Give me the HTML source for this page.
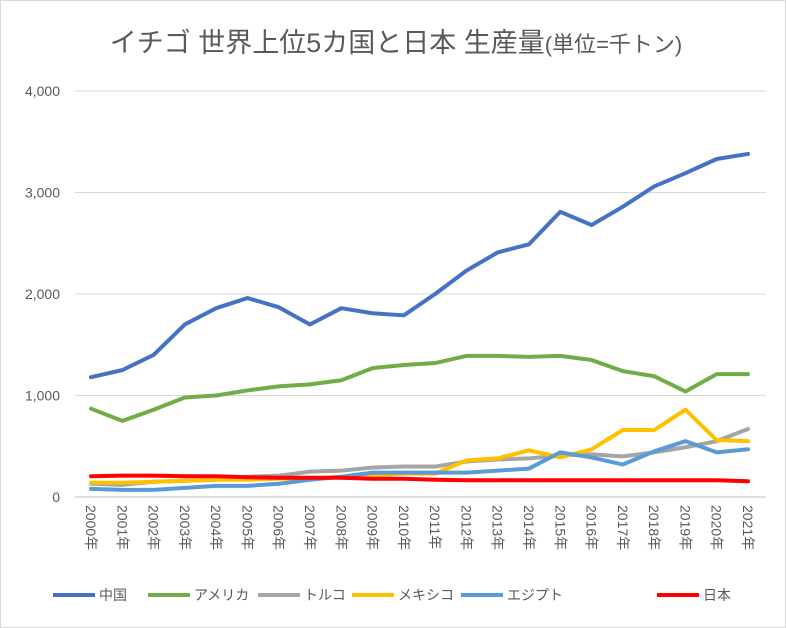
<!DOCTYPE html>
<html><head><meta charset="utf-8"><style>
body{margin:0;background:#fff;}
svg{display:block;font-family:"Liberation Sans","Noto Sans CJK JP",sans-serif;}
</style></head><body>
<svg id="c" width="786" height="628" xmlns="http://www.w3.org/2000/svg">
<rect x="0.5" y="0.5" width="785" height="627" fill="#fff" stroke="#d9d9d9"/>
<text x="396" y="52" text-anchor="middle" font-size="27" fill="#595959">イチゴ 世界上位5カ国と日本 生産量<tspan font-size="22">(単位=千トン)</tspan></text>
</svg>
<script>
const s=document.getElementById('c'),NS='http://www.w3.org/2000/svg';
function el(t,a,txt){const e=document.createElementNS(NS,t);for(const k in a)e.setAttribute(k,a[k]);if(txt!==undefined)e.textContent=txt;s.appendChild(e);return e;}
const y0=497,k=101.5/1000,x0=91,dx=657/21;
for(let i=0;i<=4;i++){const y=y0-i*1000*k;
 el('line',{x1:75,x2:766,y1:y,y2:y,stroke:i?'#d9d9d9':'#bfbfbf','stroke-width':1});
 el('text',{x:60,y:y+5,'text-anchor':'end','font-size':14,fill:'#595959'},i?i+',000':'0');}
for(let i=0;i<22;i++){const x=x0+i*dx;
 el('text',{x:0,y:0,'font-size':14,fill:'#595959',transform:`translate(${x-5},505) rotate(90)`},(2000+i)+'年');}
const D=[
['#4472c4',[1180,1250,1400,1700,1860,1960,1870,1700,1860,1810,1790,2000,2230,2410,2490,2810,2680,2860,3060,3190,3330,3380]],
['#70ad47',[870,750,860,980,1000,1050,1090,1110,1150,1270,1300,1320,1390,1390,1380,1390,1350,1240,1190,1040,1210,1210]],
['#a5a5a5',[130,120,150,160,170,200,210,250,260,290,300,300,350,370,380,410,420,400,440,490,550,670]],
['#ffc000',[140,140,150,160,170,170,180,180,200,210,230,230,360,380,460,390,470,660,660,860,560,550]],
['#5b9bd5',[80,70,70,90,110,110,130,170,200,240,240,240,240,260,280,440,390,320,450,550,440,470]],
['#ff0000',[205,210,210,205,205,195,190,190,190,180,180,170,165,165,165,165,165,165,165,165,165,155]]];
for(const [c,v] of D){el('polyline',{points:v.map((d,i)=>(x0+i*dx)+','+(y0-d*k)).join(' '),fill:'none',stroke:c,'stroke-width':4,'stroke-linejoin':'round','stroke-linecap':'round'});}
const L=[['中国',53],['アメリカ',148],['トルコ',258],['メキシコ',352],['エジプト',461],['日本',657]];
L.forEach(([n,x],i)=>{el('line',{x1:x,x2:x+42,y1:595,y2:595,stroke:D[i][0],'stroke-width':4});
 el('text',{x:x+46,y:600,'font-size':14,fill:'#595959'},n);});
</script>
</body></html>
